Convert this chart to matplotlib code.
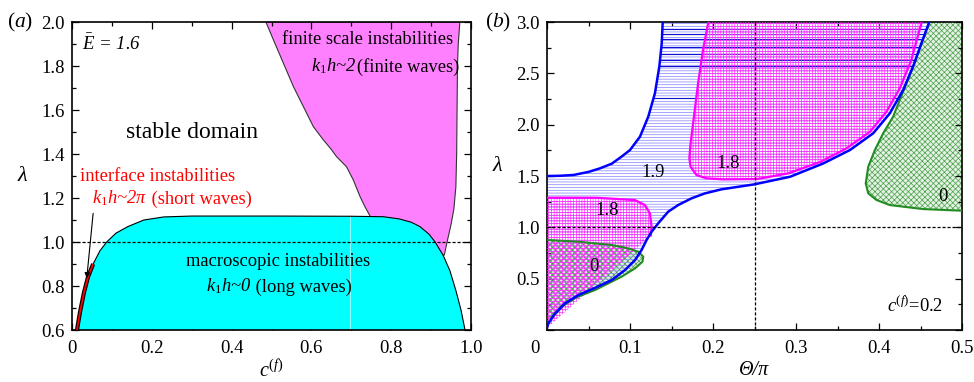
import matplotlib
matplotlib.use("Agg")
import matplotlib.pyplot as plt
from matplotlib.patches import Polygon
from matplotlib.transforms import ScaledTranslation

plt.rcParams["font.family"] = ["Liberation Serif", "DejaVu Serif"]
plt.rcParams["mathtext.fontset"] = "custom"
plt.rcParams["mathtext.rm"] = "Liberation Serif"
plt.rcParams["mathtext.it"] = "Liberation Serif:italic"
plt.rcParams["mathtext.bf"] = "Liberation Serif:bold"
plt.rcParams["hatch.linewidth"] = 0.5

# ---- panel (a): stability map, E = 1.6 ----
cyan_c = [0.0125, 0.02, 0.03, 0.04, 0.053, 0.07, 0.087, 0.11, 0.14, 0.18, 0.23, 0.3,
          0.5, 0.7, 0.78, 0.82, 0.85, 0.872, 0.895, 0.91, 0.93, 0.947, 0.962, 0.975, 0.985]
cyan_lam = [0.6, 0.68, 0.77, 0.84, 0.9, 0.96, 1.0, 1.04, 1.07, 1.1, 1.114, 1.118,
            1.118, 1.117, 1.115, 1.105, 1.09, 1.07, 1.035, 1.0, 0.94, 0.87, 0.78, 0.69, 0.6]

mag_left_c = [0.486, 0.505, 0.53, 0.555, 0.58, 0.605, 0.63, 0.648, 0.663, 0.688,
              0.705, 0.722, 0.734, 0.747]
mag_left_lam = [2.0, 1.918, 1.812, 1.706, 1.615, 1.524, 1.464, 1.425, 1.388, 1.342,
                1.282, 1.206, 1.161, 1.118]
mag_tip_c = [0.75, 0.933]
mag_tip_lam = [1.0, 0.94]
mag_right_c = [0.94, 0.95, 0.957, 0.962, 0.964, 0.965, 0.966, 0.968, 0.972]
mag_right_lam = [1.0, 1.08, 1.15, 1.25, 1.4, 1.6, 1.8, 1.9, 2.0]

red_c = cyan_c[:5]
red_lam = cyan_lam[:5]

# ---- panel (b): c(f) = 0.2 ----
blue_upper_t = [0.0, 0.015, 0.032, 0.05, 0.064, 0.078, 0.09, 0.1, 0.112, 0.122,
                0.130, 0.1353, 0.1382, 0.1394]
blue_upper_lam = [1.50, 1.502, 1.51, 1.54, 1.575, 1.62, 1.69, 1.753, 1.883, 2.078,
                  2.305, 2.565, 2.79, 3.0]
blue_lower_t = [0.0, 0.0016, 0.0096, 0.0217, 0.0377, 0.0578, 0.078, 0.094, 0.106,
                0.114, 0.12, 0.126, 0.134, 0.146, 0.158, 0.174, 0.19, 0.21, 0.25,
                0.293, 0.333, 0.365, 0.393, 0.413, 0.429, 0.441, 0.451, 0.4606]
blue_lower_lam = [0.02, 0.065, 0.16, 0.26, 0.34, 0.41, 0.487, 0.584, 0.68,
                  0.78, 0.877, 0.957, 1.039, 1.152, 1.217, 1.282, 1.33, 1.37, 1.419,
                  1.493, 1.623, 1.753, 1.916, 2.11, 2.337, 2.565, 2.79, 3.0]
dark_lines_lam = [2.93, 2.88, 2.83, 2.76, 2.69, 2.63, 2.57, 2.26]

mag_up_t = [0.1944, 0.188, 0.182, 0.177, 0.173, 0.1715, 0.173, 0.18, 0.192, 0.212,
            0.253, 0.291, 0.33, 0.361, 0.389, 0.409, 0.425, 0.439, 0.4514]
mag_up_lam = [3.0, 2.73, 2.40, 2.078, 1.818, 1.672, 1.59, 1.51, 1.477, 1.467,
              1.47, 1.526, 1.64, 1.77, 1.93, 2.126, 2.353, 2.63, 3.0]

mag_low_t = [0.0, 0.0, 0.06, 0.106, 0.118, 0.124, 0.126, 0.125]
mag_low_lam = [0.02, 1.289, 1.288, 1.266, 1.217, 1.136, 1.006, 0.92]

green_low_t = [0.0, 0.0, 0.038, 0.078, 0.098, 0.11, 0.116, 0.115, 0.106, 0.09,
               0.074, 0.058, 0.036, 0.02, 0.008, 0.0015]
green_low_lam = [0.02, 0.877, 0.86, 0.828, 0.795, 0.763, 0.714, 0.665, 0.60, 0.52,
                 0.455, 0.39, 0.32, 0.24, 0.14, 0.06]

green_right_t = [0.4606, 0.451, 0.441, 0.431, 0.425, 0.417, 0.405, 0.395, 0.387,
                 0.384, 0.387, 0.397, 0.413, 0.453, 0.5, 0.5]
green_right_lam = [3.0, 2.79, 2.565, 2.36, 2.24, 2.078, 1.916, 1.753, 1.59,
                   1.428, 1.331, 1.266, 1.217, 1.178, 1.162, 3.0]

FS = 13.3


def style_axes(ax):
    ax.tick_params(which="both", direction="in", top=True, right=True,
                   labelsize=13.5, pad=5)
    ax.tick_params(axis="x", which="both", pad=7)
    ax.tick_params(which="major", length=5, width=0.9)
    ax.tick_params(which="minor", length=3, width=0.9)
    for s in ax.spines.values():
        s.set_linewidth(1.2)


def mixed_text(ax, x, y, parts, **kw):
    # parts: (text, style) pieces laid next to each other on one baseline
    renderer = ax.figure.canvas.get_renderer()
    for s, st in parts:
        t = ax.text(x, y, s, style=st, ha="left", va="baseline", **kw)
        bb = t.get_window_extent(renderer)
        x = ax.transData.inverted().transform((bb.x1, bb.y0))[0]


fig = plt.figure(figsize=(9.74, 3.82), dpi=100)
ax_a = fig.add_axes([0.0739, 0.1361, 0.4097, 0.8063])
ax_b = fig.add_axes([0.5616, 0.1361, 0.4261, 0.8063])
ax_a.set_xlim(0, 1.0)
ax_a.set_ylim(0.6, 2.0)
ax_b.set_xlim(0, 0.5)
ax_b.set_ylim(0, 3.0)

# ---------------- panel (a) ----------------
mag_a_x = mag_left_c + mag_tip_c + mag_right_c
mag_a_y = mag_left_lam + mag_tip_lam + mag_right_lam
ax_a.add_patch(Polygon(list(zip(mag_a_x, mag_a_y)), closed=True,
                       facecolor="#ff80ff", edgecolor="#333333", lw=0.8, zorder=1))
ax_a.fill_between(cyan_c, 0.6, cyan_lam, facecolor="#00ffff", edgecolor="none", zorder=2)
ax_a.plot(cyan_c, cyan_lam, color="black", lw=0.8, zorder=3)
ax_a.plot([0.697, 0.697], [0.6, 1.116], color="white", lw=0.6, alpha=0.7, zorder=2.5)
ax_a.plot(red_c, red_lam, color="black", lw=3.0, zorder=4, solid_capstyle="butt")
ax_a.plot(red_c, red_lam, color="red", lw=1.3, zorder=5, solid_capstyle="butt")
ax_a.axhline(1.0, color="black", lw=0.9, ls=(0, (2.5, 1.5)), zorder=6)

ax_a.annotate("", xy=(0.037, 0.835), xytext=(0.053, 1.13),
              arrowprops=dict(arrowstyle="-|>", color="black", lw=0.8,
                              mutation_scale=8, shrinkA=0, shrinkB=0), zorder=7)

ax_a.text(0.025, 1.9, r"$\bar{E}$ = 1.6", fontsize=13.5, style="italic", va="center")
ax_a.text(0.74, 1.92, "finite scale instabilities", fontsize=FS, ha="center", va="center")
mixed_text(ax_a, 0.60, 1.775, [(r"$k_1h$~2", "italic"), ("(finite waves)", "normal")],
           fontsize=FS)
ax_a.text(0.30, 1.50, "stable domain", fontsize=17, ha="center", va="center")
ax_a.text(0.02, 1.30, "interface instabilities", fontsize=FS, color="red",
          ha="left", va="center")
mixed_text(ax_a, 0.05, 1.175, [(r"$k_1h$~2π", "italic"), (" (short waves)", "normal")],
           fontsize=FS, color="red")
ax_a.text(0.517, 0.91, "macroscopic instabilities", fontsize=FS, ha="center", va="center")
mixed_text(ax_a, 0.336, 0.775, [(r"$k_1h$~0", "italic"), (" (long waves)", "normal")],
           fontsize=FS)

ax_a.set_xticks([0, 0.2, 0.4, 0.6, 0.8, 1.0])
ax_a.set_xticks([0.1, 0.3, 0.5, 0.7, 0.9], minor=True)
ax_a.set_yticks([0.6, 0.8, 1.0, 1.2, 1.4, 1.6, 1.8, 2.0])
ax_a.set_yticks([0.7, 0.9, 1.1, 1.3, 1.5, 1.7, 1.9], minor=True)
ax_a.set_xticklabels(["0", "0.2", "0.4", "0.6", "0.8", "1.0"])
ax_a.set_yticklabels(["0.6", "0.8", "1.0", "1.2", "1.4", "1.6", "1.8", "2.0"])
style_axes(ax_a)
ax_a.text(-0.125, 0.5, "λ", fontsize=16, style="italic", transform=ax_a.transAxes,
          ha="center", va="center")
ax_a.text(0.5, -0.135, r"$c^{(f)}$", fontsize=14.5, transform=ax_a.transAxes,
          ha="center", va="center")
fig.text(0.021, 0.9424, r"($a$)", fontsize=15.5, ha="center", va="center")

# ---------------- panel (b) ----------------
blue_x = blue_upper_t + blue_lower_t[::-1]
blue_y = blue_upper_lam + blue_lower_lam[::-1]

for gx, gy in [(green_low_t, green_low_lam), (green_right_t, green_right_lam)]:
    ax_b.add_patch(Polygon(list(zip(gx, gy)), closed=True, facecolor="#e4f2e4",
                           edgecolor="#4aa04a", hatch="xxxxxx", lw=0, zorder=1))

blue_patch = Polygon(list(zip(blue_x, blue_y)), closed=True, facecolor="none",
                     edgecolor="#8080ff", hatch="------", lw=0, zorder=2)
ax_b.add_patch(blue_patch)
for lv in dark_lines_lam:
    ln = ax_b.axhline(lv, color="#1010d0", lw=0.8, zorder=2.5)
    ln.set_clip_path(blue_patch)

for tx, ly in [(mag_up_t, mag_up_lam), (mag_low_t, mag_low_lam)]:
    ax_b.add_patch(Polygon(list(zip(tx, ly)), closed=True, facecolor="none",
                           edgecolor="#ff30ff", hatch="++++++", lw=0, zorder=3))
    ax_b.plot(tx[1:] if tx is mag_low_t else tx, ly[1:] if tx is mag_low_t else ly,
              color="#ff00ff", lw=1.6, zorder=4)

ax_b.plot(green_low_t[1:], green_low_lam[1:], color="#228b22", lw=1.5, zorder=4.5)
ax_b.plot(green_right_t[:-1], green_right_lam[:-1], color="#228b22", lw=1.5, zorder=4.5)
ax_b.plot(blue_upper_t, blue_upper_lam, color="#0000ff", lw=1.8, zorder=5)
ax_b.plot(blue_lower_t, blue_lower_lam, color="#0000ff", lw=1.8, zorder=5)

ax_b.axhline(1.0, color="black", lw=0.9, ls=(0, (2.5, 1.5)), zorder=6)
ax_b.axvline(0.25, color="black", lw=0.9, ls=(0, (2.5, 1.5)), zorder=6)

ax_b.text(0.128, 1.53, "1.9", fontsize=FS, ha="center", va="center", zorder=7)
ax_b.text(0.218, 1.62, "1.8", fontsize=FS, ha="center", va="center", zorder=7)
ax_b.text(0.072, 1.16, "1.8", fontsize=FS, ha="center", va="center", zorder=7)
ax_b.text(0.057, 0.62, "0", fontsize=FS, ha="center", va="center", zorder=7)
ax_b.text(0.477, 1.30, "0", fontsize=FS, ha="center", va="center", zorder=7)
ax_b.text(0.443, 0.23, r"$c^{(f)}$=0.2", fontsize=FS, ha="center", va="center", zorder=7)

ax_b.set_xticks([0, 0.1, 0.2, 0.3, 0.4, 0.5])
ax_b.set_xticks([0.05, 0.15, 0.25, 0.35, 0.45], minor=True)
ax_b.set_yticks([0, 0.5, 1.0, 1.5, 2.0, 2.5, 3.0])
ax_b.set_yticks([0.25, 0.75, 1.25, 1.75, 2.25, 2.75], minor=True)
ax_b.set_xticklabels(["0", "0.1", "0.2", "0.3", "0.4", "0.5"])
ax_b.set_yticklabels(["", "0.5", "1.0", "1.5", "2.0", "2.5", "3.0"])
style_axes(ax_b)
first = ax_b.xaxis.get_majorticklabels()[0]
first.set_transform(first.get_transform() + ScaledTranslation(-0.12, 0, fig.dpi_scale_trans))
ax_b.text(-0.12, 0.53, "λ", fontsize=16, style="italic", transform=ax_b.transAxes,
          ha="center", va="center")
ax_b.text(0.5, -0.13, "Θ/π", fontsize=14.5, style="italic", transform=ax_b.transAxes,
          ha="center", va="center")
fig.text(0.511, 0.9424, r"($b$)", fontsize=15.5, ha="center", va="center")

fig.savefig("out.png", dpi=100)
